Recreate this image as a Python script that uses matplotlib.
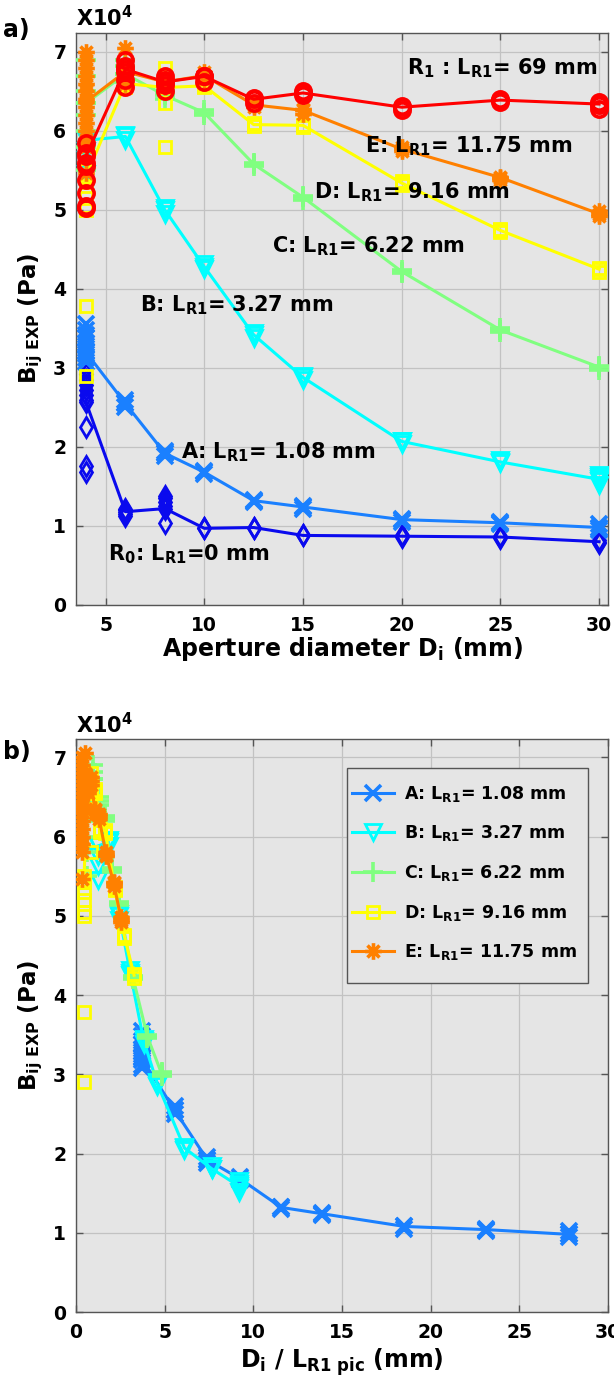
import matplotlib
matplotlib.use("Agg")
import matplotlib.pyplot as plt
from matplotlib.path import Path
from matplotlib.patches import Rectangle
import numpy as np

plt.rcParams['font.family'] = ['DejaVu Sans']
plt.rcParams['font.weight'] = 'bold'
plt.rcParams['mathtext.fontset'] = 'custom'
plt.rcParams['mathtext.rm'] = 'DejaVu Sans:bold'
plt.rcParams['mathtext.it'] = 'DejaVu Sans:bold'
plt.rcParams['mathtext.bf'] = 'DejaVu Sans:bold'
plt.rcParams['mathtext.default'] = 'it'

# ---------------- data (values in units of 1e4 Pa) ----------------
D = [4, 6, 8, 10, 12.5, 15, 20, 25, 30]          # aperture diameter (mm)

R0_line = [2.57, 1.18, 1.22, 0.97, 0.98, 0.88, 0.87, 0.86, 0.80]
A_line  = [3.20, 2.55, 1.92, 1.68, 1.32, 1.24, 1.08, 1.04, 0.98]
B_line  = [5.88, 5.93, 5.00, 4.28, 3.42, 2.88, 2.07, 1.81, 1.59]
C_line  = [6.35, 6.72, 6.45, 6.23, 5.58, 5.16, 4.22, 3.48, 3.01]
D_line  = [5.42, 6.60, 6.55, 6.57, 6.08, 6.07, 5.34, 4.74, 4.25]
E_line  = [6.37, 6.75, 6.62, 6.70, 6.33, 6.26, 5.77, 5.41, 4.95]
R1_line = [5.68, 6.78, 6.62, 6.69, 6.40, 6.48, 6.30, 6.39, 6.34]

R0_pts = [[1.68, 1.76, 2.25, 2.60, 2.66, 2.72, 2.78, 2.85, 2.92, 3.00],
          [1.12, 1.15, 1.20, 1.22], [1.04, 1.25, 1.30, 1.35, 1.38], [0.97],
          [0.98], [0.88], [0.86, 0.88], [0.85, 0.87], [0.78, 0.82]]
A_pts = [[3.08, 3.12, 3.18, 3.22, 3.28, 3.32, 3.38, 3.42, 3.48, 3.55],
         [2.50, 2.55, 2.60], [1.88, 1.92, 1.95], [1.66, 1.70], [1.30, 1.33],
         [1.22, 1.25], [1.05, 1.09], [1.02, 1.05], [0.95, 0.98, 1.02]]
B_pts = [[5.45, 5.63, 5.75, 5.88], [5.88, 5.95], [4.95, 5.02], [4.25, 4.32],
         [3.38, 3.44], [2.85, 2.90], [2.04, 2.08], [1.80, 1.84],
         [1.52, 1.57, 1.62, 1.65]]
C_pts = [[5.50, 5.80, 6.00, 6.20, 6.35, 6.50, 6.70, 6.90],
         [6.62, 6.72, 6.82, 6.90], [6.40, 6.50], [6.20, 6.26], [5.55, 5.60],
         [5.13, 5.18], [4.20, 4.24], [3.46, 3.50], [2.98, 3.03]]
D_pts = [[2.90, 3.78, 5.00, 5.05, 5.20, 5.30, 5.42, 5.50],
         [6.55, 6.60, 6.65], [5.80, 6.35, 6.55, 6.80], [6.55, 6.60],
         [6.06, 6.10], [6.05, 6.08], [5.32, 5.36], [4.72, 4.76], [4.22, 4.27]]
E_pts = [[5.47, 5.80, 5.90, 6.00, 6.10, 6.20, 6.30, 6.40, 6.50, 6.60, 6.70,
          6.80, 6.90, 7.00],
         [6.60, 6.70, 6.80, 7.05], [6.55, 6.65, 6.70], [6.65, 6.75],
         [6.30, 6.35], [6.22, 6.28], [5.75, 5.80], [5.38, 5.42], [4.92, 4.98]]
R1_pts = [[5.02, 5.05, 5.22, 5.38, 5.55, 5.60, 5.72, 5.85],
          [6.55, 6.65, 6.75, 6.82, 6.90], [6.50, 6.58, 6.65, 6.70],
          [6.62, 6.70], [6.35, 6.42], [6.45, 6.50], [6.27, 6.32],
          [6.37, 6.41], [6.28, 6.33, 6.37]]

L_R1 = [1.08, 3.27, 6.22, 9.16, 11.75]   # A..E  (mm)
labels_AE = ['A', 'B', 'C', 'D', 'E']

# ---------------- styles ----------------
ast = Path([(-1, 0), (1, 0), (0, -1), (0, 1), (-.72, -.72), (.72, .72),
            (-.72, .72), (.72, -.72)],
           [Path.MOVETO, Path.LINETO] * 4)

styles = {
    'R0': dict(color='#0a0aee', marker='d', ms=10, mew=2.0),
    'A':  dict(color='#1a80ff', marker='x', ms=12, mew=2.6),
    'B':  dict(color='#00ffff', marker='v', ms=12, mew=2.0),
    'C':  dict(color='#80ff80', marker='+', ms=15, mew=2.6),
    'D':  dict(color='#ffff00', marker='s', ms=9, mew=2.0),
    'E':  dict(color='#ff8000', marker=ast, ms=12, mew=2.6),
    'R1': dict(color='#ff0000', marker='o', ms=11, mew=2.6),
}
series = [('R0', R0_line, R0_pts), ('A', A_line, A_pts), ('B', B_line, B_pts),
          ('C', C_line, C_pts), ('D', D_line, D_pts), ('E', E_line, E_pts),
          ('R1', R1_line, R1_pts)]

BG = '#e5e5e5'
fig = plt.figure(figsize=(6.14, 13.84), dpi=100)
ax1 = fig.add_axes([0.1238, 0.5629, 0.8664, 0.4133])
ax2 = fig.add_axes([0.1238, 0.0520, 0.8664, 0.4140])


def draw(ax, xs, yline, pts, st, label=None):
    c = st['color']
    px, py = [], []
    for x, vals in zip(xs, pts):
        px += [x] * len(vals)
        py += vals
    ax.plot(px, py, ls='none', marker=st['marker'], ms=st['ms'],
            mew=st['mew'], mec=c, mfc='none', zorder=3)
    ax.plot(xs, yline, color=c, lw=2.2, marker=st['marker'], ms=st['ms'],
            mew=st['mew'], mec=c, mfc='none', zorder=3, label=label)


for key, yl, pts in series:
    draw(ax1, D, yl, pts, styles[key])

for i, (key, yl, pts) in enumerate(series[1:6]):
    xs = [d / L_R1[i] for d in D]
    draw(ax2, xs, yl, pts, styles[key],
         label=f'{labels_AE[i]}: L$_{{R1}}$= {L_R1[i]:.2f} mm')

for ax in (ax1, ax2):
    ax.set_facecolor(BG)
    ax.grid(True, color='#c2c2c2', lw=0.9)
    ax.set_axisbelow(True)
    ax.set_yticks(range(0, 8))
    ax.tick_params(direction='in', length=5, width=1, top=True, right=True,
                   labelsize=13.5, color='#555555')
    ax.tick_params(axis='x', pad=8)
    ax.tick_params(axis='y', pad=7)
    for sp in ax.spines.values():
        sp.set_color('#555555')
        sp.set_linewidth(1.0)
    for t in ax.get_xticklabels() + ax.get_yticklabels():
        t.set_fontweight('bold')
    ax.set_ylabel(r'B$_{ij\ EXP}$ (Pa)', fontsize=16.5,
                  fontweight='bold', labelpad=6)
    ax.text(0.0, 1.004, r'X10$^{4}$', transform=ax.transAxes,
            fontsize=15, fontweight='bold', ha='left', va='bottom')

ax1.set_xlim(3.5, 30.45)
ax1.set_ylim(0, 7.24)
ax1.set_xticks([5, 10, 15, 20, 25, 30])
ax1.set_xlabel(r'Aperture diameter D$_{i}$ (mm)', fontsize=17,
               fontweight='bold', labelpad=0)

ax2.set_xlim(0, 30)
ax2.set_ylim(0, 7.23)
ax2.set_xticks(range(0, 31, 5))
ax2.set_xlabel(r'D$_{i}$ / L$_{R1\ pic}$ (mm)', fontsize=17,
               fontweight='bold', labelpad=3)

# annotations panel a
ann = dict(fontsize=15, fontweight='bold', family='DejaVu Sans', va='baseline',
           zorder=5)
ax1.text(20.27, 6.71, r'R$_1$ : L$_{R1}$= 69 mm', **ann)
ax1.text(18.14, 5.73, r'E: L$_{R1}$= 11.75 mm', **ann)
ax1.text(15.56, 5.15, r'D: L$_{R1}$= 9.16 mm', **ann)
ax1.text(13.43, 4.46, r'C: L$_{R1}$= 6.22 mm', **ann)
ax1.text(6.74, 3.71, r'B: L$_{R1}$= 3.27 mm', **ann)
ax1.text(8.80, 1.86, r'A: L$_{R1}$= 1.08 mm', **ann)
ax1.text(5.12, 0.57, r'R$_0$: L$_{R1}$=0 mm', **ann)

# legend box (frame drawn separately so the padding matches the original)
ax2.add_patch(Rectangle((0.5094, 0.574), 0.453, 0.375, transform=ax2.transAxes,
                        facecolor=BG, edgecolor='#555555', lw=1.0, zorder=4.8))
leg = ax2.legend(loc='upper left', bbox_to_anchor=(0.519, 0.922),
                 borderaxespad=0,
                 prop=dict(family='DejaVu Sans', weight='bold', size=12.5),
                 frameon=False, handlelength=2.4, labelspacing=1.13,
                 borderpad=0, handletextpad=0.6)
leg.set_zorder(5)

fig.text(0.005, 0.978, 'a)', fontsize=17, fontweight='bold', va='center')
fig.text(0.005, 0.457, 'b)', fontsize=17, fontweight='bold', va='center')

fig.savefig('out.png', dpi=100, facecolor='white')
